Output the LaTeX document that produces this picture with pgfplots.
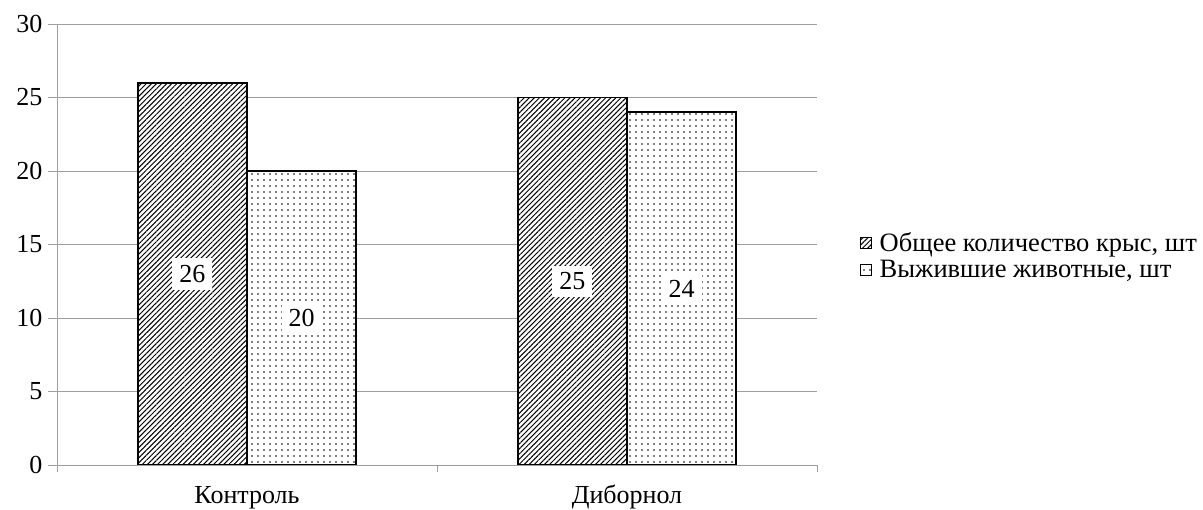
\documentclass[border=0pt]{standalone}
\usepackage{pgfplots}
\pgfplotsset{compat=1.18}
\usepackage{fontspec}
\setmainfont{Liberation Serif}
\usetikzlibrary{patterns.meta}
\begin{document}
\begin{tikzpicture}
\path[use as bounding box] (-57pt,-45pt) rectangle (1146pt,465pt);
\begin{axis}[
  scale only axis, width=760pt, height=441pt,
  xmin=-0.5, xmax=1.5, ymin=0, ymax=30,
  ytick={0,5,...,30},
  ymajorgrids, grid style={draw=black!38, line width=0.9pt},
  xtick={0,1}, xticklabels={Контроль, Диборнол},
  minor xtick={-0.5,0.5,1.5},
  major x tick style={draw=none},
  minor x tick style={draw=black!38, line width=0.9pt},
  major tick length=9pt, minor tick length=7pt,
  tick align=outside,
  axis x line*=bottom, axis y line*=left,
  axis line style={draw=black!38, line width=0.9pt, -},
  y tick style={draw=black!38, line width=0.9pt},
  ticklabel style={font=\fontsize{26}{30}\selectfont},
  /pgf/number format/assume math mode=true,
  yticklabel style={xshift=-2pt},
  xticklabel style={yshift=-8pt, text height=18pt, text depth=6pt},
  ybar=0pt, bar width=0.287,
  visualization depends on=y \as \rawy,
  nodes near coords,
  every node near coord/.append style={anchor=center, fill=white, inner sep=7pt,
      font=\fontsize{26}{30}\selectfont, yshift=-\rawy*7.35pt},
  legend style={at={(1.052,0.474)}, anchor=west, draw=none, fill=none,
      font=\fontsize{26.5}{30}\selectfont, row sep=3pt,
      /tikz/every odd column/.append style={column sep=6pt}},
  legend cell align=left,
  legend image code/.code={\draw[#1, line width=1pt] (0pt,-5.5pt) rectangle (11pt,5.5pt);},
]
\addplot[draw=black, line width=1.8pt, fill=white,
  postaction={pattern={Lines[angle=45,distance=3.6pt,line width=1pt]}}]
  coordinates {(0,26) (1,25)};
\addlegendentry{Общее количество крыс, шт}
\addplot[draw=black, line width=1.8pt, fill=white,
  postaction={pattern={Dots[distance=6pt,radius=0.85pt]}}]
  coordinates {(0,20) (1,24)};
\addlegendentry{Выжившие животные, шт}
\end{axis}
\end{tikzpicture}
\end{document}
